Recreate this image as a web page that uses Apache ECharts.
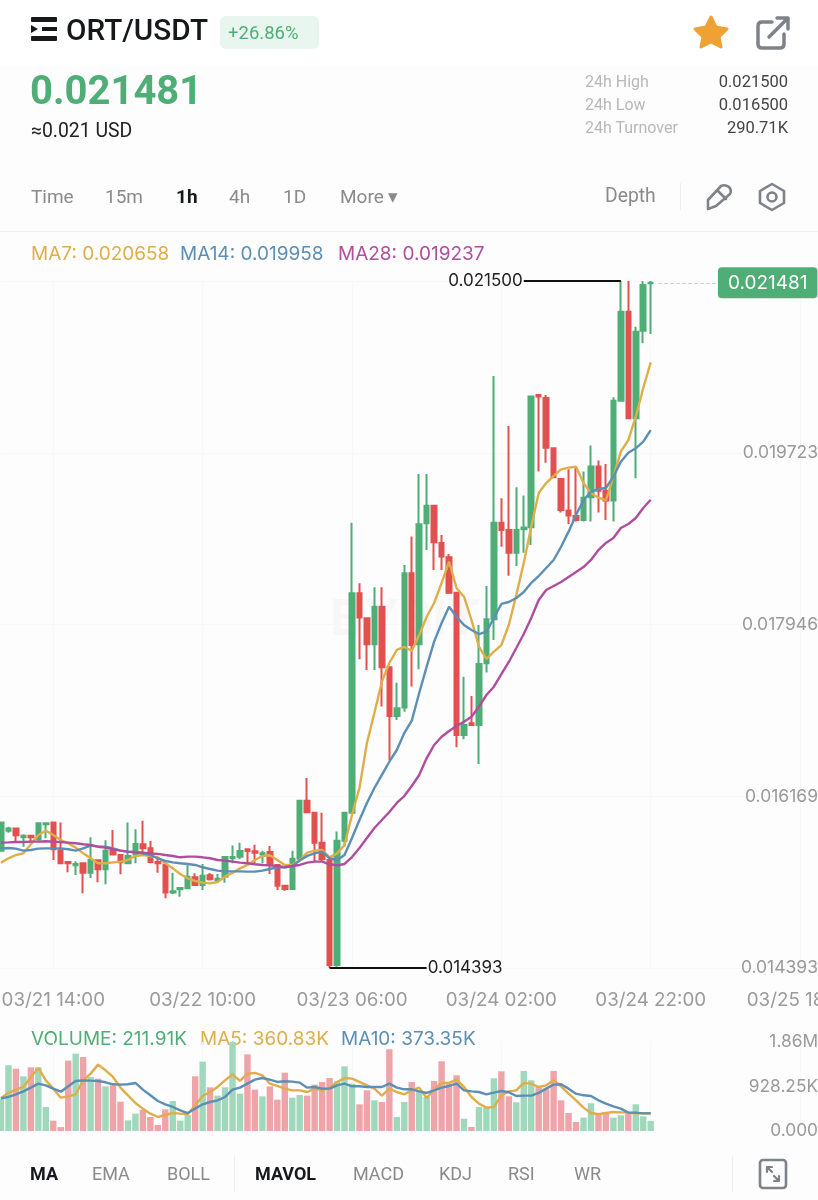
<!DOCTYPE html>
<html>
<head>
<meta charset="utf-8">
<title>ORT/USDT</title>
<script src="https://cdn.jsdelivr.net/npm/echarts@6/dist/echarts.min.js"></script>
<style>
  html, body { margin: 0; padding: 0; background: #fdfdfd; }
  #page { position: relative; width: 818px; height: 1200px; overflow: hidden; font-family: Roboto, sans-serif; }
  #chart { position: absolute; left: 0; top: 0; width: 818px; height: 1200px; }
  #topband { position: absolute; left: 0; top: 0; width: 818px; height: 66px; background: #fff; }
  .t { position: absolute; white-space: nowrap; line-height: 1; transform: translateY(-50%); }
  .rule { position: absolute; background: #efefef; }
  #badge { position: absolute; left: 220px; top: 16px; width: 99px; height: 33px; background: #e9f5ef; border-radius: 6px; }
  svg { position: absolute; left: 0; top: 0; }
</style>
</head>
<body>
<div id="page">
  <div id="topband"></div>
  <div id="badge"></div>
  <div class="rule" style="left:0;top:231px;width:818px;height:1px"></div>
  <div class="rule" style="left:680px;top:183px;width:1px;height:27px"></div>
  <div class="rule" style="left:234px;top:1156px;width:1px;height:36px"></div>
  <div class="rule" style="left:732px;top:1156px;width:1px;height:36px"></div>
  <div id="chart"></div>
  <svg width="818" height="1200" fill="none">
    <g fill="#16181c">
      <rect x="31" y="17" width="26" height="5" rx="1"/>
      <rect x="31" y="36" width="26" height="5" rx="1"/>
      <rect x="42" y="27" width="15" height="4"/>
      <polygon points="31,25 38,29 31,33"/>
    </g>
    <polygon fill="#efa134" stroke="#efa134" stroke-width="3" stroke-linejoin="round" points="711,17 716,27 727,29 719,37 721,47 711,42 701,47 703,37 695,29 706,27"/>
    <g stroke="#7f8389" stroke-width="3.5" stroke-linecap="round" stroke-linejoin="round">
      <path d="M772 22 H762 Q758 22 758 26 V44 Q758 48 762 48 H780 Q784 48 784 44 V34"/>
      <path d="M769 37 L788 18 M777 18 H788 V29"/>
    </g>
    <g stroke="#7f8389" stroke-width="2.6" stroke-linejoin="round" stroke-linecap="round">
      <path d="M721 186 Q725 184 729 187 Q732 190 730 194 L716 206 L708 209 L708 200 Z"/>
      <path d="M718 191 L726 199"/>
      <path d="M772 184 L784 191 V203 L772 210 L760 203 V191 Z"/>
      <circle cx="772" cy="197" r="4.5"/>
      <rect x="760" y="1160" width="26" height="28" rx="3"/>
      <path d="M767 1167 L772 1172 M767 1167 V1172 M767 1167 H772 M779 1181 L774 1176 M779 1181 V1176 M779 1181 H774" stroke-width="2.2"/>
    </g>
  </svg>
</div>
<script>
// K线数据:从截图读数
const opens = [0.015607,0.015814,0.015835,0.015745,0.015762,0.015724,0.015879,0.015897,0.015610,0.015490,0.015455,0.015476,0.015379,0.015507,0.015414,0.015607,0.015562,0.015476,0.015566,0.015673,0.015631,0.015490,0.015462,0.015173,0.015207,0.015217,0.015331,0.015252,0.015352,0.015304,0.015338,0.015528,0.015545,0.015621,0.015600,0.015566,0.015593,0.015459,0.015245,0.015211,0.015524,0.016124,0.016000,0.015690,0.015510,0.014424,0.015710,0.016000,0.018269,0.018011,0.017742,0.018131,0.017504,0.017000,0.017087,0.018476,0.017742,0.018993,0.019176,0.018790,0.018642,0.018276,0.016804,0.016925,0.016907,0.017545,0.018000,0.019000,0.018925,0.018690,0.018931,0.018952,0.020321,0.020290,0.019769,0.019452,0.019125,0.019069,0.019028,0.019262,0.019580,0.019331,0.019228,0.020262,0.021183,0.020080,0.020986,0.021476];
const closes = [0.015897,0.015835,0.015766,0.015762,0.015745,0.015890,0.015890,0.015621,0.015476,0.015476,0.015469,0.015379,0.015510,0.015414,0.015607,0.015566,0.015486,0.015552,0.015676,0.015631,0.015490,0.015476,0.015173,0.015186,0.015221,0.015338,0.015252,0.015348,0.015310,0.015317,0.015542,0.015542,0.015604,0.015604,0.015586,0.015579,0.015459,0.015245,0.015211,0.015524,0.016124,0.016004,0.015690,0.015517,0.014424,0.015710,0.016000,0.018269,0.018018,0.017742,0.018131,0.017504,0.017000,0.017080,0.018476,0.017735,0.018983,0.019176,0.018797,0.018649,0.018276,0.016804,0.016907,0.016907,0.017538,0.018000,0.019000,0.018925,0.018690,0.018925,0.018949,0.020304,0.020304,0.019776,0.019469,0.019131,0.019073,0.019028,0.019259,0.019580,0.019331,0.019228,0.020262,0.021183,0.020080,0.020976,0.021459,0.021481];
const lows = [0.015607,0.015793,0.015700,0.015648,0.015683,0.015710,0.015735,0.015510,0.015476,0.015383,0.015355,0.015166,0.015324,0.015279,0.015259,0.015566,0.015362,0.015476,0.015476,0.015590,0.015476,0.015379,0.015114,0.015159,0.015131,0.015207,0.015252,0.015200,0.015297,0.015276,0.015276,0.015476,0.015517,0.015469,0.015469,0.015476,0.015366,0.015200,0.015193,0.015207,0.015510,0.016004,0.015493,0.015493,0.014393,0.014407,0.015650,0.015990,0.017587,0.017476,0.017476,0.017097,0.016545,0.016959,0.017045,0.017304,0.017483,0.018718,0.018511,0.018511,0.018262,0.016676,0.016759,0.016907,0.016504,0.017449,0.017787,0.018752,0.018451,0.018552,0.018690,0.018769,0.019528,0.019621,0.019469,0.019104,0.018987,0.019011,0.019011,0.019011,0.019104,0.019028,0.019011,0.020252,0.020080,0.019459,0.020855,0.020952];
const highs = [0.015897,0.015855,0.015835,0.015776,0.015762,0.015897,0.015897,0.015897,0.015897,0.015490,0.015497,0.015476,0.015745,0.015507,0.015714,0.015821,0.015562,0.015897,0.015828,0.015917,0.015707,0.015545,0.015462,0.015379,0.015228,0.015455,0.015373,0.015469,0.015376,0.015366,0.015552,0.015659,0.015690,0.015621,0.015669,0.015607,0.015655,0.015469,0.015252,0.015607,0.016131,0.016359,0.016000,0.016000,0.015528,0.015804,0.016000,0.019000,0.018373,0.018011,0.018331,0.018331,0.017504,0.017345,0.018562,0.018856,0.019504,0.019504,0.019176,0.018873,0.018676,0.018276,0.017407,0.017207,0.017942,0.018345,0.020518,0.019252,0.020000,0.019366,0.019280,0.020311,0.020321,0.020321,0.019769,0.019452,0.019552,0.019580,0.019528,0.019797,0.019642,0.019607,0.020297,0.021500,0.021500,0.021028,0.021500,0.021500];

const ma7 = [0.015483,0.015528,0.015562,0.015579,0.015673,0.015769,0.015814,0.015769,0.015717,0.015683,0.015638,0.015579,0.015528,0.015476,0.015476,0.015486,0.015493,0.015510,0.015552,0.015562,0.015552,0.015538,0.015476,0.015424,0.015366,0.015321,0.015293,0.015276,0.015269,0.015283,0.015338,0.015379,0.015424,0.015459,0.015510,0.015552,0.015559,0.015510,0.015459,0.015459,0.015510,0.015586,0.015607,0.015614,0.015538,0.015579,0.015666,0.015976,0.016255,0.016721,0.017031,0.017355,0.017548,0.017683,0.017714,0.017675,0.017838,0.018027,0.018169,0.018376,0.018596,0.018324,0.018234,0.017993,0.017717,0.017590,0.017665,0.017734,0.017941,0.018252,0.018583,0.018958,0.019307,0.019410,0.019483,0.019552,0.019569,0.019579,0.019410,0.019307,0.019258,0.019234,0.019475,0.019734,0.019855,0.020096,0.020393,0.020658];
const ma14 = [0.015631,0.015635,0.015628,0.015607,0.015614,0.015628,0.015631,0.015631,0.015631,0.015621,0.015607,0.015631,0.015659,0.015648,0.015648,0.015631,0.015607,0.015597,0.015590,0.015579,0.015562,0.015528,0.015500,0.015486,0.015476,0.015469,0.015459,0.015435,0.015417,0.015400,0.015393,0.015393,0.015393,0.015390,0.015390,0.015400,0.015417,0.015435,0.015435,0.015448,0.015504,0.015552,0.015579,0.015597,0.015528,0.015510,0.015562,0.015738,0.015924,0.016100,0.016255,0.016390,0.016527,0.016648,0.016824,0.016951,0.017238,0.017510,0.017769,0.017962,0.018131,0.018027,0.017941,0.017890,0.017848,0.017872,0.018014,0.018159,0.018179,0.018221,0.018283,0.018376,0.018448,0.018531,0.018614,0.018751,0.018907,0.019079,0.019234,0.019320,0.019348,0.019359,0.019475,0.019631,0.019724,0.019769,0.019838,0.019958];
const ma28 = [0.015690,0.015693,0.015697,0.015697,0.015700,0.015700,0.015704,0.015700,0.015697,0.015690,0.015683,0.015673,0.015666,0.015648,0.015638,0.015621,0.015607,0.015597,0.015590,0.015586,0.015579,0.015573,0.015562,0.015552,0.015538,0.015545,0.015545,0.015538,0.015528,0.015510,0.015504,0.015493,0.015483,0.015476,0.015466,0.015459,0.015455,0.015448,0.015435,0.015448,0.015459,0.015483,0.015493,0.015493,0.015466,0.015455,0.015469,0.015541,0.015634,0.015738,0.015841,0.015924,0.016007,0.016100,0.016172,0.016276,0.016390,0.016565,0.016700,0.016786,0.016845,0.016896,0.016941,0.016993,0.017096,0.017217,0.017303,0.017434,0.017559,0.017703,0.017848,0.018014,0.018200,0.018303,0.018345,0.018386,0.018438,0.018490,0.018541,0.018614,0.018717,0.018790,0.018841,0.018945,0.018986,0.019048,0.019152,0.019237];

// 成交量,单位 K
const volumes = [676,1373,1303,1143,1331,1331,502,216,84,1471,1617,1547,1129,1094,934,955,613,223,362,446,293,125,453,627,216,335,1143,1450,913,739,913,1860,781,1603,864,725,934,655,1220,697,753,739,969,1025,1108,1039,1352,990,558,850,641,606,1708,293,606,1025,850,711,1046,1457,990,1164,258,84,502,488,1101,1248,725,599,1255,1059,920,885,1255,641,376,188,279,579,349,397,279,328,362,558,307,211.91];
const volMa5 = [690,795,864,920,1129,1317,1059,885,697,725,767,1059,1199,1387,1269,1129,906,746,585,467,362,293,335,376,362,349,537,732,815,920,1059,1185,1046,1199,1213,1164,990,941,885,850,850,815,885,850,906,1025,1108,1094,1025,955,885,739,885,815,767,850,906,690,864,1004,1004,1073,920,711,572,488,502,746,829,850,1004,990,920,955,1059,934,781,641,488,376,349,376,397,390,383,369,369,360.83];
const volMa10 = [683,711,767,829,906,990,955,885,822,934,1046,1059,1052,1046,1018,976,969,976,1004,864,746,627,558,502,432,376,467,558,606,641,711,864,906,990,1073,1108,1073,1025,1039,1032,1011,906,920,885,885,955,990,934,934,920,920,920,990,906,871,871,829,795,850,906,941,990,850,829,815,767,802,836,809,732,739,739,795,885,969,976,885,781,746,732,641,572,516,467,383,383,369,373.35];

const priceTicks = [0.014393, 0.016169, 0.017946, 0.019723, 0.021500];
const priceLabels = [0.014393, 0.016169, 0.017946, 0.019723];
const volTicks = [0, 928.25, 1860];
const volTickLabels = { 0: '0.000', 928.25: '928.25K', 1860: '1.86M' };
const timeTickIdx = [7, 27, 47, 67, 87, 107];
const HIGH = 0.0215, LOW = 0.014393, LAST = 0.021481;

const UP = '#4fae76', DOWN = '#e2504f';
const UP_SOFT = '#a0d8bb', DOWN_SOFT = '#eea4a8';
const GOLD = '#dfae4a', BLUE = '#5b8fb5', PURPLE = '#b04d9f';
const GRID_LINE = '#f8f8f8', AXIS_TEXT = '#9a9a9a';
const CHART_FONT = 'Inter, sans-serif';
const STEP = 7.468, SLOTS = 110;   // 每根K线间距,含右侧留白

// 从 03/21 07:00 起每小时一格
function buildCategories() {
  const out = [];
  const pad = n => String(n).padStart(2, '0');
  for (let i = 0; i < SLOTS; i++) {
    const h = i + 7;
    out.push('03/' + (21 + Math.floor(h / 24)) + ' ' + pad(h % 24) + ':00');
  }
  return out;
}
const categories = buildCategories();

// 页面文字:x, 中线 y, 内容, 字号, 颜色, 字重, 是否右对齐
const uiTexts = [
  [66, 30, 'ORT/USDT', 29.7, '#16181c', 500],
  [228, 33, '+26.86%', 18.5, UP, 400],
  [30, 91, '0.021481', 40, UP, 700],
  [31, 131, '≈0.021 USD', 19.4, '#222', 400],
  [585, 82, '24h High', 16, '#b8b8b8', 400],
  [585, 105, '24h Low', 16, '#b8b8b8', 400],
  [585, 128, '24h Turnover', 16, '#b8b8b8', 400],
  [788, 82, '0.021500', 16.5, '#444', 400, true],
  [788, 105, '0.016500', 16.5, '#444', 400, true],
  [788, 128, '290.71K', 16.5, '#444', 400, true],
  [31, 196, 'Time', 19, '#8a8a8a', 400],
  [105, 196, '15m', 19, '#8a8a8a', 400],
  [176, 196, '1h', 19, '#16181c', 700],
  [229, 196, '4h', 19, '#8a8a8a', 400],
  [283, 196, '1D', 19, '#8a8a8a', 400],
  [340, 196, 'More ▾', 19, '#8a8a8a', 400],
  [605, 196, 'Depth', 19.3, '#8a8a8a', 400],
  [30, 1174, 'MA', 18, '#16181c', 700],
  [92, 1174, 'EMA', 18, '#8a8a8a', 400],
  [167, 1174, 'BOLL', 18, '#8a8a8a', 400],
  [255, 1174, 'MAVOL', 18, '#16181c', 700],
  [353, 1174, 'MACD', 18, '#8a8a8a', 400],
  [439, 1174, 'KDJ', 18, '#8a8a8a', 400],
  [508, 1174, 'RSI', 18, '#8a8a8a', 400],
  [574, 1174, 'WR', 18, '#8a8a8a', 400],
];

function renderUiTexts() {
  const page = document.getElementById('page');
  for (const [x, y, text, size, color, weight, right] of uiTexts) {
    const el = document.createElement('div');
    el.className = 't';
    el.textContent = text;
    el.style.top = y + 'px';
    if (right) el.style.right = (818 - x) + 'px';
    else el.style.left = x + 'px';
    el.style.fontSize = size + 'px';
    el.style.color = color;
    el.style.fontWeight = weight;
    page.appendChild(el);
  }
}

function legendText(x, y, text, fill) {
  return { type: 'text', x, y, style: { text, fill, font: '19px ' + CHART_FONT, textVerticalAlign: 'middle' } };
}

function lineSeries(name, data, color, axisIdx) {
  return {
    name, type: 'line', data, xAxisIndex: axisIdx, yAxisIndex: axisIdx,
    showSymbol: false, symbol: 'none', clip: false, silent: true,
    lineStyle: { color, width: 2.4 },
    z: 5,
  };
}

function hiLoMark(fromIdx, toIdx, value) {
  return [
    {
      coord: [fromIdx, value],
      lineStyle: { color: '#111', width: 2, type: 'solid' },
      label: {
        show: true, position: 'end', distance: 1, formatter: value.toFixed(6),
        color: '#222', fontSize: 17, fontFamily: CHART_FONT,
      },
    },
    { coord: [toIdx, value] },
  ];
}

function initChart() {
  const chart = echarts.init(document.getElementById('chart'));
  const candles = opens.map((o, i) => [o, closes[i], lows[i], highs[i]]);
  const isTimeTick = idx => timeTickIdx.includes(idx);
  const gridWidth = STEP * (SLOTS - 1);

  chart.setOption({
    animation: false,
    backgroundColor: 'transparent',
    grid: [
      { left: 1, top: 281, width: gridWidth, height: 687, outerBoundsMode: 'none' },
      { left: 1, top: 1042, width: gridWidth, height: 89, outerBoundsMode: 'none' },
    ],
    xAxis: [
      {
        type: 'category', gridIndex: 0, data: categories, boundaryGap: false,
        axisLine: { show: false }, axisTick: { show: false },
        axisLabel: { interval: idx => isTimeTick(idx), color: AXIS_TEXT, fontSize: 18.8, fontFamily: CHART_FONT, margin: 23 },
        splitLine: { show: true, interval: idx => isTimeTick(idx), lineStyle: { color: GRID_LINE } },
      },
      {
        type: 'category', gridIndex: 1, data: categories, boundaryGap: false,
        axisLine: { show: false }, axisTick: { show: false }, axisLabel: { show: false },
        splitLine: { show: true, interval: idx => isTimeTick(idx), lineStyle: { color: GRID_LINE } },
      },
    ],
    yAxis: [
      {
        type: 'value', gridIndex: 0, position: 'right', min: LOW, max: HIGH, scale: true,
        axisLine: { show: false },
        axisTick: { show: false, customValues: priceTicks },
        splitLine: { show: true, customValues: priceTicks, lineStyle: { color: GRID_LINE } },
        axisLabel: {
          inside: true, margin: -3, customValues: priceLabels,
          formatter: v => v.toFixed(6), color: AXIS_TEXT, fontSize: 17.5, fontFamily: CHART_FONT,
        },
      },
      {
        type: 'value', gridIndex: 1, position: 'right', min: 0, max: 1860,
        axisLine: { show: false },
        axisTick: { show: false, customValues: volTicks },
        splitLine: { show: false },
        axisLabel: {
          inside: true, margin: -3, customValues: volTicks,
          formatter: v => volTickLabels[v], color: AXIS_TEXT, fontSize: 17.3, fontFamily: CHART_FONT,
        },
      },
    ],
    series: [
      {
        name: 'K', type: 'candlestick', data: candles, xAxisIndex: 0, yAxisIndex: 0,
        barWidth: 5, clip: false, silent: true,
        itemStyle: { color: UP, color0: DOWN, borderColor: UP, borderColor0: DOWN, borderWidth: 2 },
        markLine: {
          silent: true, symbol: 'none', animation: false,
          data: [
            hiLoMark(83, 70, HIGH),
            hiLoMark(44, 57, LOW),
            [
              {
                coord: [87.5, LAST],
                lineStyle: { color: '#cfcfcf', width: 1, type: 'dashed' },
                label: {
                  show: true, position: 'end', distance: 0, formatter: LAST.toFixed(6),
                  color: '#fff', fontSize: 19, fontFamily: CHART_FONT,
                  backgroundColor: UP, borderRadius: 4, padding: [6, 10],
                },
              },
              { coord: [96, LAST] },
            ],
          ],
        },
      },
      lineSeries('MA7', ma7, GOLD, 0),
      lineSeries('MA14', ma14, BLUE, 0),
      lineSeries('MA28', ma28, PURPLE, 0),
      {
        name: 'VOLUME', type: 'bar', data: volumes, xAxisIndex: 1, yAxisIndex: 1,
        barWidth: 6.4, clip: false, silent: true,
        itemStyle: { color: p => (closes[p.dataIndex] >= opens[p.dataIndex] ? UP_SOFT : DOWN_SOFT) },
      },
      lineSeries('MA5', volMa5, GOLD, 1),
      lineSeries('MA10', volMa10, BLUE, 1),
    ],
    graphic: [
      { type: 'text', x: 405, y: 620, z: -10, style: { text: 'BYBIT', fill: '#f7f7f7', font: 'bold 50px ' + CHART_FONT, textAlign: 'center', textVerticalAlign: 'middle' } },
      legendText(31, 254, 'MA7: 0.020658', GOLD),
      legendText(180, 254, 'MA14: 0.019958', BLUE),
      legendText(338, 254, 'MA28: 0.019237', PURPLE),
      legendText(31, 1039, 'VOLUME: 211.91K', UP),
      legendText(200, 1039, 'MA5: 360.83K', GOLD),
      legendText(341, 1039, 'MA10: 373.35K', BLUE),
    ],
  });
  return chart;
}

renderUiTexts();
initChart();
</script>
</body>
</html>
